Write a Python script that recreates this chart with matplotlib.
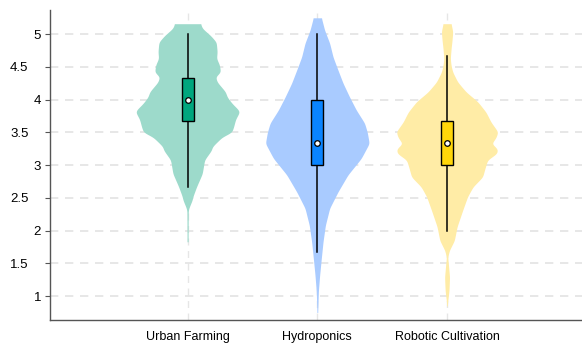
import numpy as np
import matplotlib.pyplot as plt
from matplotlib.transforms import ScaledTranslation

plt.rcParams['font.family'] = ['Liberation Sans', 'DejaVu Sans']

categories = ['Urban Farming', 'Hydroponics', 'Robotic Cultivation']
positions = [1, 2, 3]

# density outline of each group: score levels and half-width at that level
uf_y = [5.16, 5.09, 4.98, 4.88, 4.73, 4.63, 4.53, 4.42, 4.35, 4.27, 4.12, 4.04,
        3.94, 3.84, 3.81, 3.70, 3.58, 3.50, 3.43, 3.33, 3.28, 3.23, 3.08, 2.87,
        2.67, 2.52, 2.47, 2.34, 2.30, 1.83]
uf_w = [0.100, 0.113, 0.177, 0.221, 0.228, 0.223, 0.246, 0.254, 0.215, 0.228,
        0.292, 0.305, 0.344, 0.395, 0.400, 0.370, 0.354, 0.340, 0.267, 0.215,
        0.190, 0.185, 0.131, 0.113, 0.069, 0.041, 0.036, 0.009, 0.005, 0.004]

hy_y = [5.25, 5.06, 4.86, 4.65, 4.45, 4.25, 4.04, 3.84, 3.64, 3.50, 3.33, 3.10,
        2.85, 2.59, 2.34, 2.08, 1.83, 1.58, 1.32, 1.07, 0.75]
hy_w = [0.031, 0.056, 0.095, 0.121, 0.159, 0.198, 0.248, 0.300, 0.364, 0.385,
        0.400, 0.338, 0.236, 0.159, 0.095, 0.062, 0.044, 0.031, 0.018, 0.008,
        0.003]

rc_y = [5.16, 5.04, 4.90, 4.78, 4.63, 4.52, 4.42, 4.27, 4.12, 3.97, 3.81, 3.66,
        3.51, 3.42, 3.33, 3.25, 3.18, 3.08, 2.95, 2.82, 2.67, 2.52, 2.31, 2.06,
        1.85, 1.70, 1.60, 1.45, 1.29, 1.09, 0.92, 0.85]
rc_w = [0.031, 0.044, 0.038, 0.031, 0.025, 0.031, 0.044, 0.082, 0.146, 0.236,
        0.300, 0.338, 0.392, 0.377, 0.343, 0.389, 0.385, 0.312, 0.292, 0.274,
        0.200, 0.158, 0.120, 0.077, 0.056, 0.018, 0.005, 0.012, 0.019, 0.015,
        0.005, 0.002]

# box summaries
whisker_lo = [2.667, 1.667, 2.0]
q1 = [3.667, 3.0, 3.0]
median = [4.0, 3.333, 3.333]
q3 = [4.333, 4.0, 3.667]
whisker_hi = [5.0, 5.0, 4.667]

violin_colors = ['#9ddacb', '#a9cbff', '#ffeca6']
box_colors = ['#00a67e', '#0a84ff', '#ffd60a']

profiles = [(uf_y, uf_w), (hy_y, hy_w), (rc_y, rc_w)]


def smooth_outline(ys, ws, sigma=0.025):
    # resample the outline on a fine grid and soften the corners a little
    ys, ws = np.asarray(ys)[::-1], np.asarray(ws)[::-1]
    grid = np.linspace(ys[0], ys[-1], 600)
    w = np.interp(grid, ys, ws)
    step = grid[1] - grid[0]
    k = np.arange(-4 * sigma, 4 * sigma + step, step)
    kern = np.exp(-0.5 * (k / sigma) ** 2)
    kern /= kern.sum()
    pad = len(k) // 2
    wp = np.concatenate([np.full(pad, w[0]), w, np.full(pad, w[-1])])
    ws_s = np.convolve(wp, kern, mode='same')[pad:pad + len(w)]
    return grid, ws_s


fig = plt.figure(figsize=(5.82, 3.43), dpi=100)
ax = fig.add_axes([0.086, 0.067, 0.914, 0.904])

for x in positions:
    ax.axvline(x, color='#e6e6e6', lw=1.0, ls=(0, (5, 4)), zorder=0)
for yv in np.arange(1, 5.01, 0.5):
    ax.axhline(yv, color='#e3e3e3', lw=1.2, ls=(0, (5, 4)), zorder=0)

bw = 0.046
for i, x in enumerate(positions):
    ys, ws = smooth_outline(*profiles[i])
    ax.fill_betweenx(ys, x - ws, x + ws, color=violin_colors[i], lw=0, zorder=1)
    ax.plot([x, x], [whisker_lo[i], whisker_hi[i]], color='black', lw=1.1, zorder=2)
    ax.add_patch(plt.Rectangle((x - bw, q1[i]), 2 * bw, q3[i] - q1[i],
                               facecolor=box_colors[i], edgecolor='black',
                               lw=1.0, zorder=3))
    ax.plot(x, median[i], 'o', ms=4, mfc='white', mec='black', mew=0.9, zorder=4)

ax.set_xlim(-0.06, 4.04)
ax.set_ylim(0.635, 5.37)
ax.set_xticks(positions)
ax.set_xticklabels(categories, fontsize=9)
ax.tick_params(axis='x', length=0, pad=8)

yticks = [1, 1.5, 2, 2.5, 3, 3.5, 4, 4.5, 5]
ax.set_yticks(yticks)
ax.set_yticklabels([f'{v:g}' for v in yticks], fontsize=9.5)
ax.tick_params(axis='y', length=3.5, width=0.8, color='#555555', pad=3)
for v, lab in zip(yticks, ax.get_yticklabels()):
    if v != int(v):
        lab.set_transform(lab.get_transform() +
                          ScaledTranslation(-0.125, 0, fig.dpi_scale_trans))

for side in ['top', 'right']:
    ax.spines[side].set_visible(False)
for side in ['left', 'bottom']:
    ax.spines[side].set_color('#555555')
    ax.spines[side].set_linewidth(1.0)

fig.savefig('out.png', dpi=100)
